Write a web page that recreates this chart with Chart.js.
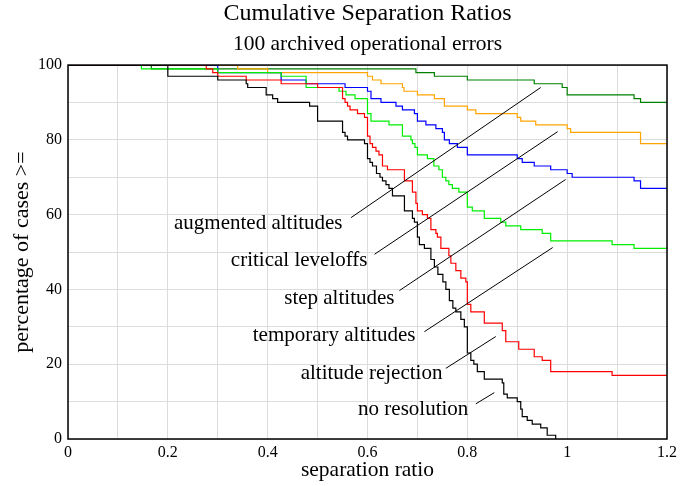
<!DOCTYPE html>
<html><head><meta charset="utf-8">
<script src="https://cdn.jsdelivr.net/npm/chart.js@4.4.1/dist/chart.umd.min.js"></script>
<style>html,body{margin:0;padding:0;background:#fff}canvas{display:block}</style>
</head><body>
<canvas id="c" width="681" height="486"></canvas>
<script>
// ---- data (separation ratio at which each curve steps, and % of cases >= after the step) ----
const noResX = [0, 0.2, 0.3, 0.357, 0.36, 0.397, 0.41, 0.42, 0.484, 0.5, 0.55, 0.555, 0.56, 0.594, 0.6, 0.605, 0.61, 0.618, 0.625, 0.63, 0.637, 0.643, 0.65, 0.674, 0.69, 0.694, 0.7, 0.704, 0.714, 0.727, 0.734, 0.741, 0.751, 0.757, 0.764, 0.771, 0.777, 0.787, 0.794, 0.8, 0.807, 0.813, 0.82, 0.834, 0.87, 0.873, 0.88, 0.9, 0.907, 0.91, 0.92, 0.93, 0.947, 0.96, 0.977];
const noResY = [100, 97, 96, 95, 94, 92, 91, 90, 89, 85, 82, 81, 80, 79, 75, 74, 73, 71, 70, 69, 68, 67, 65, 61, 59, 58, 54, 52, 51, 48, 46, 44, 42, 40, 37, 35, 34, 32, 30, 23, 21, 20, 18, 16, 15, 12, 11, 10, 8, 6, 5, 4, 3, 1, 0];

const altRejX = [0, 0.277, 0.29, 0.3, 0.357, 0.427, 0.5, 0.55, 0.555, 0.56, 0.565, 0.58, 0.594, 0.6, 0.605, 0.61, 0.617, 0.623, 0.63, 0.64, 0.674, 0.69, 0.697, 0.7, 0.71, 0.72, 0.727, 0.737, 0.74, 0.747, 0.763, 0.767, 0.777, 0.787, 0.797, 0.8, 0.807, 0.834, 0.87, 0.877, 0.903, 0.934, 0.95, 0.967, 1.09, 1.2];
const altRejY = [100, 99, 98, 97, 96, 95, 94, 91, 90, 89, 88, 87, 86, 81, 79, 78, 77, 76, 73, 72, 69, 66, 63, 61, 60, 59, 56, 55, 54, 51, 49, 47, 45, 43, 42, 36, 34, 31, 29, 26, 24, 22, 21, 18, 17, 17];

const tempAltX = [0, 0.147, 0.3, 0.427, 0.477, 0.543, 0.557, 0.575, 0.6, 0.607, 0.643, 0.67, 0.687, 0.69, 0.695, 0.7, 0.72, 0.733, 0.743, 0.75, 0.757, 0.763, 0.77, 0.783, 0.8, 0.81, 0.834, 0.867, 0.877, 0.907, 0.95, 0.967, 1.09, 1.134, 1.2];
const tempAltY = [100, 99, 98, 97, 94, 93, 92, 91, 87, 85, 84, 81, 80, 79, 78, 76, 75, 73, 72, 70, 69, 68, 67, 66, 62, 61, 59, 58, 57, 56, 55, 53, 52, 51, 51];

const stepAltX = [0, 0.3, 0.427, 0.477, 0.555, 0.6, 0.607, 0.627, 0.657, 0.67, 0.694, 0.7, 0.717, 0.737, 0.75, 0.754, 0.764, 0.78, 0.8, 0.9, 0.91, 0.934, 0.967, 1.0, 1.01, 1.134, 1.147, 1.2];
const stepAltY = [100, 98, 96, 95, 94, 93, 91, 90, 89, 88, 87, 85, 84, 83, 82, 80, 79, 78, 76, 75, 74, 73, 72, 71, 70, 69, 67, 67];

const critLevX = [0, 0.34, 0.4, 0.6, 0.61, 0.627, 0.67, 0.673, 0.7, 0.734, 0.754, 0.8, 0.817, 0.9, 0.907, 0.937, 1.0, 1.007, 1.147, 1.2];
const critLevY = [100, 99, 98, 97, 96, 95, 94, 93, 92, 91, 89, 88, 87, 86, 85, 84, 83, 82, 79, 79];

const augAltX = [0, 0.167, 0.697, 0.734, 0.8, 0.934, 0.99, 1.0, 1.134, 1.147, 1.2];
const augAltY = [100, 99, 98, 97, 96, 95, 94, 92, 91, 90, 90];

const seriesNames = ['no resolution', 'altitude rejection', 'temporary altitudes', 'step altitudes', 'critical leveloffs', 'augmented altitudes'];
const xTickValues = [0, 0.2, 0.4, 0.6, 0.8, 1, 1.2];
const yTickValues = [0, 20, 40, 60, 80, 100];

// ---- presentation ----
const SERIF = "'Liberation Serif', 'Times New Roman', serif";
const colors = ['#000000', '#ff0000', '#00ee00', '#0000ff', '#ffa500', '#008000'];
const xs = [noResX, altRejX, tempAltX, stepAltX, critLevX, augAltX];
const ys = [noResY, altRejY, tempAltY, stepAltY, critLevY, augAltY];

const datasets = seriesNames.map((name, i) => ({
  label: name,
  data: xs[i].map((x, j) => ({x: x, y: ys[i][j]})),
  borderColor: colors[i],
  backgroundColor: colors[i],
  borderWidth: 1.2,
  pointRadius: 0,
  fill: false,
  stepped: true,
  tension: 0
}));

// callout labels: text right end and leader line, in data units
const callouts = [
  {text: 'no resolution',       tx: 0.802, ty: 6.4,  x1: 0.817, y1: 9.4,  x2: 0.854, y2: 12.4},
  {text: 'altitude rejection',  tx: 0.750, ty: 16.0, x1: 0.757, y1: 18.9, x2: 0.857, y2: 27.4},
  {text: 'temporary altitudes', tx: 0.696, ty: 26.2, x1: 0.714, y1: 28.7, x2: 0.971, y2: 51.2},
  {text: 'step altitudes',      tx: 0.654, ty: 36.1, x1: 0.664, y1: 39.7, x2: 0.997, y2: 69.4},
  {text: 'critical leveloffs',  tx: 0.600, ty: 46.3, x1: 0.614, y1: 49.4, x2: 0.981, y2: 82.2},
  {text: 'augmented altitudes', tx: 0.550, ty: 56.1, x1: 0.567, y1: 59.2, x2: 0.947, y2: 94.0}
];

const decorPlugin = {
  id: 'decor',
  afterDatasetsDraw(chart) {
    const {ctx, chartArea: a, scales: {x, y}} = chart;
    ctx.save();
    ctx.strokeStyle = '#000';
    ctx.lineWidth = 1;
    callouts.forEach(c => {
      ctx.beginPath();
      ctx.moveTo(x.getPixelForValue(c.x1), y.getPixelForValue(c.y1));
      ctx.lineTo(x.getPixelForValue(c.x2), y.getPixelForValue(c.y2));
      ctx.stroke();
    });
    ctx.fillStyle = '#000';
    ctx.font = '21px ' + SERIF;
    ctx.textAlign = 'right';
    ctx.textBaseline = 'alphabetic';
    callouts.forEach(c => {
      ctx.fillText(c.text, x.getPixelForValue(c.tx), y.getPixelForValue(c.ty));
    });
    ctx.lineWidth = 1.5;
    ctx.strokeStyle = '#000';
    ctx.strokeRect(a.left, a.top, a.right - a.left, a.bottom - a.top);
    ctx.restore();
  }
};

new Chart(document.getElementById('c'), {
  type: 'line',
  data: {datasets},
  plugins: [decorPlugin],
  options: {
    responsive: false,
    animation: false,
    devicePixelRatio: 1,
    layout: {padding: {top: 0, right: 13, left: 0, bottom: 0}},
    plugins: {
      legend: {display: false},
      tooltip: {enabled: false},
      title: {
        display: true,
        fullSize: false,
        text: 'Cumulative Separation Ratios',
        color: '#000',
        font: {family: SERIF, size: 24, weight: 'normal', lineHeight: 1.1},
        padding: {top: 1, bottom: 0}
      },
      subtitle: {
        display: true,
        fullSize: false,
        text: '100 archived operational errors',
        color: '#000',
        font: {family: SERIF, size: 21.5, weight: 'normal', lineHeight: 1.1},
        padding: {top: 5, bottom: 9}
      }
    },
    scales: {
      x: {
        type: 'linear',
        min: 0, max: 1.2,
        afterFit: s => { s.height = 47; },
        grid: {color: '#dcdcdc', lineWidth: 1, drawTicks: false},
        border: {display: false},
        ticks: {
          stepSize: 0.1,
          padding: 4,
          color: '#000',
          maxRotation: 0,
          autoSkip: false,
          font: {family: SERIF, size: 16},
          callback: v => {
            const r = Math.round(v * 10) / 10;
            return xTickValues.some(t => Math.abs(t - r) < 1e-6) ? String(r) : '';
          }
        },
        title: {
          display: true,
          text: 'separation ratio',
          color: '#000',
          font: {family: SERIF, size: 21.5},
          padding: {top: 0, bottom: 3}
        }
      },
      y: {
        min: 0, max: 100,
        afterFit: s => { s.width = 68; },
        grid: {color: '#dcdcdc', lineWidth: 1, drawTicks: false},
        border: {display: false},
        ticks: {
          stepSize: 10,
          padding: 6,
          color: '#000',
          autoSkip: false,
          font: {family: SERIF, size: 16},
          callback: v => yTickValues.includes(v) ? String(v) : ''
        },
        title: {
          display: true,
          text: 'percentage of cases >=',
          color: '#000',
          font: {family: SERIF, size: 22},
          padding: {top: 9, bottom: 0}
        }
      }
    }
  }
});
</script>
</body></html>
